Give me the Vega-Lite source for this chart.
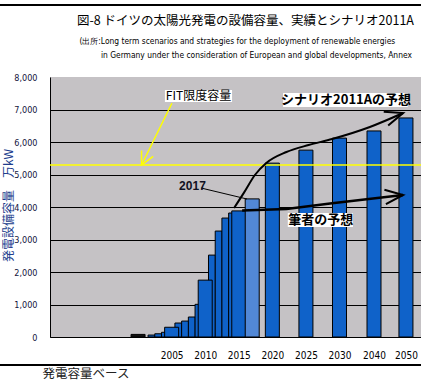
{
  "$schema": "https://vega.github.io/schema/vega-lite/v6.json",
  "width": 371,
  "height": 260,
  "autosize": {"type": "none"},
  "padding": {"left": 50, "top": 77, "right": 0, "bottom": 47},
  "background": "white",
  "config": {"view": {"fill": "#c5c2c5", "stroke": null}, "font": "Noto Sans CJK JP"},
  "title": {
    "text": "図-8 ドイツの太陽光発電の設備容量、実績とシナリオ2011A",
    "subtitle": [
      "\u200b\u00a0(出所:Long term scenarios and strategies for the deployment of renewable energies",
      "\u200b\u00a0\u00a0\u00a0\u00a0\u00a0\u00a0\u00a0\u00a0\u00a0\u00a0in Germany under the consideration of European and global developments, Annex"
    ],
    "anchor": "start",
    "frame": "group",
    "dx": 27,
    "offset": -55,
    "font": "Noto Sans CJK JP",
    "fontSize": 12.5,
    "fontWeight": "normal",
    "color": "black",
    "subtitleFont": "Liberation Sans Narrow, DejaVu Sans Condensed, sans-serif",
    "subtitleFontSize": 8.4,
    "subtitleColor": "black",
    "subtitlePadding": 9,
    "subtitleLineHeight": 14
  },
  "datasets": {
    "capacity": [
      {"year": 2000, "value": 80, "type": "early"},
      {"year": 2002, "value": 60, "type": "annual"},
      {"year": 2003, "value": 100, "type": "annual"},
      {"year": 2004, "value": 145, "type": "annual"},
      {"year": 2005, "value": 300, "type": "milestone"},
      {"year": 2006, "value": 430, "type": "annual"},
      {"year": 2007, "value": 490, "type": "annual"},
      {"year": 2008, "value": 615, "type": "annual"},
      {"year": 2009, "value": 1005, "type": "annual"},
      {"year": 2010, "value": 1750, "type": "milestone"},
      {"year": 2011, "value": 2520, "type": "annual"},
      {"year": 2012, "value": 3260, "type": "annual"},
      {"year": 2013, "value": 3660, "type": "annual"},
      {"year": 2014, "value": 3815, "type": "annual"},
      {"year": 2015, "value": 3880, "type": "milestone"},
      {"year": 2017, "value": 4250, "type": "estimate"},
      {"year": 2020, "value": 5350, "type": "forecast"},
      {"year": 2025, "value": 5750, "type": "forecast"},
      {"year": 2030, "value": 6120, "type": "forecast"},
      {"year": 2040, "value": 6340, "type": "forecast"},
      {"year": 2050, "value": 6740, "type": "forecast"}
    ],
    "scenario": [
      {"year": 2014.3, "value": 3969},
      {"year": 2015.8, "value": 4450},
      {"year": 2017.4, "value": 4985},
      {"year": 2019.1, "value": 5354},
      {"year": 2022.1, "value": 5692},
      {"year": 2025.4, "value": 5908},
      {"year": 2028.9, "value": 6092},
      {"year": 2038.8, "value": 6462},
      {"year": 2049.1, "value": 6892}
    ],
    "author": [
      {"year": 2015.5, "value": 3890},
      {"year": 2022.1, "value": 3940},
      {"year": 2028.6, "value": 4110},
      {"year": 2049.1, "value": 4369}
    ],
    "fitArrow": [
      {"year": 2005.04, "value": 7191},
      {"year": 2000.52, "value": 5292}
    ],
    "pointer2017": [
      {"year": 2009.37, "value": 4585},
      {"year": 2016.22, "value": 4246}
    ],
    "fitLimit": [
      {"value": 5290}
    ],
    "frameLines": [
      {"year": 1975, "year2": 2065, "value": 10215},
      {"year": 1975, "year2": 2065, "value": -862}
    ],
    "boxes": [
      {"label": "FIT限度容量", "year": 2004.0, "year2": 2014.0, "value": 7415, "h": 12},
      {"label": "シナリオ2011Aの予想", "year": 2021.6, "year2": 2050.6, "value": 7292, "h": 14},
      {"label": "筆者の予想", "year": 2022.3, "year2": 2033.9, "value": 3600, "h": 14}
    ],
    "notes": [
      {"label": "FIT限度容量", "year": 2009.0, "value": 7415},
      {"label": "シナリオ2011Aの予想", "year": 2031.9, "value": 7292},
      {"label": "筆者の予想", "year": 2027.2, "value": 3600},
      {"label": "2017", "year": 2008.1, "value": 4646}
    ]
  },
  "layer": [
    {
      "data": {"name": "capacity"},
      "transform": [{"filter": "datum.type === 'annual'"}],
      "mark": {"type": "bar", "size": 6.86, "stroke": "black", "strokeWidth": 1},
      "encoding": {
        "x": {
          "field": "year",
          "type": "quantitative",
          "scale": {"type": "linear", "domain": [1987.8, 2030, 2040, 2053.8], "range": [0, 289.5, 324, 371], "nice": false, "zero": false},
          "axis": {
            "values": [2005, 2010, 2015, 2020, 2025, 2030, 2040, 2050],
            "tickCount": 20,
            "format": "d",
            "ticks": false,
            "grid": false,
            "domainColor": "black",
            "labelFont": "Liberation Sans Narrow, DejaVu Sans Condensed, sans-serif",
            "labelFontSize": 10,
            "labelColor": "black",
            "labelPadding": 13,
            "labelFlush": false,
            "labelOverlap": false,
            "title": "発電容量ベース",
            "titleFont": "Noto Sans CJK JP",
            "titleFontSize": 12.5,
            "titleFontWeight": "normal",
            "titleColor": "#222222",
            "titleAnchor": "start",
            "titleAlign": "left",
            "titleX": -8,
            "titleY": 36,
            "titleBaseline": "middle"
          }
        },
        "y": {
          "field": "value",
          "type": "quantitative",
          "scale": {"domain": [0, 8000], "nice": false, "zero": true},
          "axis": {
            "values": [0, 1000, 2000, 3000, 4000, 5000, 6000, 7000, 8000],
            "tickCount": 20,
            "format": ",d",
            "ticks": false,
            "domainColor": "black",
            "grid": true,
            "gridColor": "black",
            "gridOpacity": {"condition": {"test": "datum.value === 8000", "value": 0}, "value": 1},
            "gridWidth": 1,
            "labelOverlap": false,
            "labelFont": "Liberation Sans Narrow, DejaVu Sans Condensed, sans-serif",
            "labelFontSize": 9,
            "labelColor": "#14143c",
            "labelPadding": 13,
            "title": "発電設備容量　万kW",
            "titleFont": "Noto Sans CJK JP",
            "titleFontSize": 12,
            "titleFontWeight": "normal",
            "titleColor": "#203c8c",
            "titleAngle": -90,
            "titleX": -42,
            "titleY": 128,
            "titleAlign": "center",
            "titleBaseline": "middle"
          }
        },
        "color": {"field": "type", "type": "nominal", "scale": {"domain": ["early", "annual", "milestone", "estimate", "forecast"], "range": ["#111111", "#0f62c9", "#0f62c9", "#5288d6", "#0f62c9"]}, "legend": null}
      }
    },
    {
      "data": {"name": "capacity"},
      "transform": [{"filter": "datum.type !== 'annual'"}],
      "mark": {"type": "bar", "size": 14, "stroke": "black", "strokeWidth": 1},
      "encoding": {
        "x": {"field": "year", "type": "quantitative"},
        "y": {"field": "value", "type": "quantitative"},
        "color": {"field": "type", "type": "nominal", "legend": null}
      }
    },
    {
      "data": {"name": "fitLimit"},
      "mark": {"type": "rule", "color": "#ffff00", "strokeWidth": 1.5},
      "encoding": {
        "y": {"field": "value", "type": "quantitative"}
      }
    },
    {
      "data": {"name": "frameLines"},
      "mark": {"type": "rule", "color": "black", "strokeWidth": 2},
      "encoding": {
        "x": {"field": "year", "type": "quantitative"},
        "x2": {"field": "year2"},
        "y": {"field": "value", "type": "quantitative"}
      }
    },
    {
      "data": {"name": "fitArrow"},
      "mark": {"type": "line", "color": "#ffff00", "strokeWidth": 1.5},
      "encoding": {
        "x": {"field": "year", "type": "quantitative"},
        "y": {"field": "value", "type": "quantitative"}
      }
    },
    {
      "data": {"name": "fitArrow"},
      "transform": [{"filter": "datum.year < 2001"}],
      "mark": {"type": "point", "shape": "M-1,-0.5L0,0L-1,0.5", "size": 676, "angle": 116.6, "filled": false, "stroke": "#ffff00", "strokeWidth": 1.5, "opacity": 1},
      "encoding": {
        "x": {"field": "year", "type": "quantitative"},
        "y": {"field": "value", "type": "quantitative"}
      }
    },
    {
      "data": {"name": "pointer2017"},
      "mark": {"type": "line", "color": "black", "strokeWidth": 1},
      "encoding": {
        "x": {"field": "year", "type": "quantitative"},
        "y": {"field": "value", "type": "quantitative"}
      }
    },
    {
      "data": {"name": "scenario"},
      "mark": {"type": "line", "color": "black", "strokeWidth": 2, "interpolate": "monotone"},
      "encoding": {
        "x": {"field": "year", "type": "quantitative"},
        "y": {"field": "value", "type": "quantitative"}
      }
    },
    {
      "data": {"name": "scenario"},
      "transform": [{"filter": "datum.year > 2049"}],
      "mark": {"type": "point", "shape": "M-1,-0.4L0,0L-1,0.4", "size": 1296, "angle": -18, "filled": false, "stroke": "black", "strokeWidth": 2, "opacity": 1},
      "encoding": {
        "x": {"field": "year", "type": "quantitative"},
        "y": {"field": "value", "type": "quantitative"}
      }
    },
    {
      "data": {"name": "author"},
      "mark": {"type": "line", "color": "black", "strokeWidth": 2.5},
      "encoding": {
        "x": {"field": "year", "type": "quantitative"},
        "y": {"field": "value", "type": "quantitative"}
      }
    },
    {
      "data": {"name": "author"},
      "transform": [{"filter": "datum.year > 2049"}],
      "mark": {"type": "point", "shape": "M-1,-0.4L0,0L-1,0.4", "size": 1296, "angle": -6, "filled": false, "stroke": "black", "strokeWidth": 2, "opacity": 1},
      "encoding": {
        "x": {"field": "year", "type": "quantitative"},
        "y": {"field": "value", "type": "quantitative"}
      }
    },
    {
      "data": {"name": "boxes"},
      "transform": [{"filter": "datum.h === 12"}],
      "mark": {"type": "rule", "color": "white", "strokeWidth": 12, "strokeCap": "butt"},
      "encoding": {
        "x": {"field": "year", "type": "quantitative"},
        "x2": {"field": "year2"},
        "y": {"field": "value", "type": "quantitative"}
      }
    },
    {
      "data": {"name": "boxes"},
      "transform": [{"filter": "datum.h === 14"}],
      "mark": {"type": "rule", "color": "white", "strokeWidth": 14, "strokeCap": "butt"},
      "encoding": {
        "x": {"field": "year", "type": "quantitative"},
        "x2": {"field": "year2"},
        "y": {"field": "value", "type": "quantitative"}
      }
    },
    {
      "data": {"name": "notes"},
      "transform": [{"filter": "datum.label === 'FIT限度容量'"}],
      "mark": {"type": "text", "font": "Noto Sans CJK JP", "fontSize": 12, "color": "black", "align": "center", "baseline": "middle"},
      "encoding": {
        "x": {"field": "year", "type": "quantitative"},
        "y": {"field": "value", "type": "quantitative"},
        "text": {"field": "label"}
      }
    },
    {
      "data": {"name": "notes"},
      "transform": [{"filter": "datum.label === 'シナリオ2011Aの予想' || datum.label === '筆者の予想'"}],
      "mark": {"type": "text", "font": "Noto Sans CJK JP", "fontSize": 13, "fontWeight": "bold", "color": "black", "align": "center", "baseline": "middle"},
      "encoding": {
        "x": {"field": "year", "type": "quantitative"},
        "y": {"field": "value", "type": "quantitative"},
        "text": {"field": "label"}
      }
    },
    {
      "data": {"name": "notes"},
      "transform": [{"filter": "datum.label === '2017'"}],
      "mark": {"type": "text", "font": "Liberation Sans", "fontSize": 12, "fontWeight": "bold", "color": "#111122", "align": "center", "baseline": "middle"},
      "encoding": {
        "x": {"field": "year", "type": "quantitative"},
        "y": {"field": "value", "type": "quantitative"},
        "text": {"field": "label"}
      }
    }
  ]
}
